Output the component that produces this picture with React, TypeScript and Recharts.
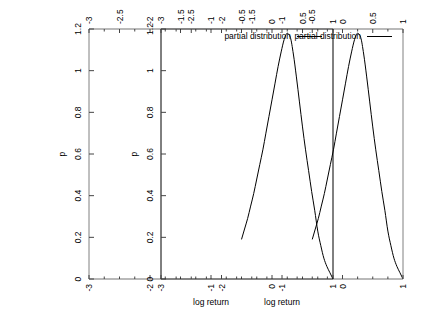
import { LineChart, Line, XAxis, YAxis, Legend } from 'recharts';

// partial distribution of log returns
const logReturn = [
  -0.5, -0.45, -0.4, -0.35, -0.3, -0.25, -0.2, -0.15, -0.1, -0.05, 0,
  0.05, 0.1, 0.15, 0.2, 0.25, 0.3, 0.35, 0.4, 0.45, 0.5,
  0.55, 0.6, 0.65, 0.7, 0.75, 0.8, 0.85, 0.9, 0.95, 1.0,
];
const density = [
  0.19, 0.24, 0.29, 0.35, 0.41, 0.48, 0.55, 0.62, 0.7, 0.78, 0.86,
  0.94, 1.02, 1.09, 1.15, 1.18, 1.16, 1.08, 0.97, 0.85, 0.73,
  0.62, 0.52, 0.42, 0.33, 0.23, 0.16, 0.1, 0.06, 0.03, 0,
];
const seriesName = 'partial distribution';

const xRange = [-3, 1];
const xTicks = [-3, -2.75, -2.5, -2.25, -2, -1.75, -1.5, -1.25, -1, -0.75, -0.5, -0.25, 0, 0.25, 0.5, 0.75, 1];
const bottomLabels = [-3, -2, -1, 0, 1];
const topLabels = [-3, -2.5, -2, -1.5, -1, -0.5, 0, 0.5, 1];
const pTicks = [0, 0.2, 0.4, 0.6, 0.8, 1, 1.2];
const pRange = [0, 1.2];

const data = logReturn.map((x, i) => ({ x, p: density[i] }));

const W = 443;
const H = 309;
const PLOT_TOP = 29;
const PLOT_BOTTOM = 279;
const AXIS_W = 30;
const TOP_H = 20;
const BOTTOM_H = 30;
const FONT = "'Liberation Sans', Arial, Helvetica, sans-serif";
const FS = 8.5;
const GRAY = '#808080';
const TICK = '#444';

const textStyle = { fontFamily: FONT, fontSize: FS, fill: '#000' };
// frame edges: half-black so the overlap of the two panels comes out darker
const edge = { stroke: '#000', strokeOpacity: 0.55, strokeWidth: 1.2 };

function BottomTick({ x, y, payload }: any) {
  const v = payload.value;
  const major = bottomLabels.includes(v);
  const ly = y + 5;
  return (
    <g>
      <line x1={x} y1={y} x2={x} y2={y - (major ? 4 : 2.5)} stroke={TICK} />
      {major && (
        <text x={x} y={ly} transform={`rotate(-90 ${x} ${ly})`} textAnchor="end" dominantBaseline="central" style={textStyle}>
          {v}
        </text>
      )}
    </g>
  );
}

function TopTick({ x, y, payload }: any) {
  const v = payload.value;
  const major = topLabels.includes(v);
  const ly = y - 5;
  return (
    <g>
      <line x1={x} y1={y} x2={x} y2={y + (major ? 4 : 2.5)} stroke={TICK} />
      {major && (
        <text x={x} y={ly} transform={`rotate(-90 ${x} ${ly})`} textAnchor="start" dominantBaseline="central" style={textStyle}>
          {v}
        </text>
      )}
    </g>
  );
}

function LeftTick({ x, y, payload }: any) {
  const lx = x - 11;
  return (
    <g>
      <line x1={x} y1={y} x2={x + 5} y2={y} stroke={TICK} />
      <text x={lx} y={y} transform={`rotate(-90 ${lx} ${y})`} textAnchor="middle" dominantBaseline="central" style={textStyle}>
        {payload.value}
      </text>
    </g>
  );
}

function RightTick({ x, y, payload }: any) {
  const lx = x + 12;
  return (
    <g>
      <line x1={x} y1={y} x2={x - 5} y2={y} stroke={TICK} />
      <text x={lx} y={y} transform={`rotate(-90 ${lx} ${y})`} textAnchor="middle" dominantBaseline="central" style={textStyle}>
        {payload.value}
      </text>
    </g>
  );
}

function PTitle({ viewBox }: any) {
  const x = viewBox.x + 3;
  const y = viewBox.y + viewBox.height / 2;
  return (
    <text x={x} y={y} transform={`rotate(-90 ${x} ${y})`} textAnchor="middle" dominantBaseline="central" style={textStyle}>
      p
    </text>
  );
}

function XTitle({ viewBox }: any) {
  return (
    <text x={viewBox.x + viewBox.width / 2} y={viewBox.y + 23} textAnchor="middle" dominantBaseline="central" style={textStyle}>
      log return
    </text>
  );
}

function Panel({ plotLeft, plotRight, leftStroke, rightStroke }: { plotLeft: number; plotRight: number; leftStroke: string; rightStroke: string }) {
  const margin = {
    top: PLOT_TOP - TOP_H,
    bottom: H - PLOT_BOTTOM - BOTTOM_H,
    left: plotLeft - AXIS_W,
    right: W - plotRight - AXIS_W,
  };
  const legend = (props: any) => {
    const name = props.payload && props.payload[0] ? props.payload[0].value : seriesName;
    return (
      <svg width={W} height={50} style={{ display: 'block', overflow: 'visible' }}>
        <text x={plotRight - 42} y={36} textAnchor="end" dominantBaseline="central" style={textStyle}>
          {name}
        </text>
        <line x1={plotRight - 36} y1={36.5} x2={plotRight - 11} y2={36.5} stroke="#000" />
      </svg>
    );
  };
  return (
    <div style={{ position: 'absolute', left: 0, top: 0 }}>
      <LineChart width={W} height={H} data={data} margin={margin}>
        <XAxis
          xAxisId="bottom"
          dataKey="x"
          type="number"
          domain={xRange}
          ticks={xTicks}
          interval={0}
          allowDataOverflow
          height={BOTTOM_H}
          tickSize={0}
          tickMargin={0}
          tick={<BottomTick />}
          axisLine={edge}
          label={<XTitle />}
        />
        <XAxis
          xAxisId="top"
          orientation="top"
          dataKey="x"
          type="number"
          domain={xRange}
          ticks={xTicks}
          interval={0}
          allowDataOverflow
          height={TOP_H}
          tickSize={0}
          tickMargin={0}
          tick={<TopTick />}
          axisLine={edge}
        />
        <YAxis
          yAxisId="left"
          type="number"
          domain={pRange}
          ticks={pTicks}
          interval={0}
          width={AXIS_W}
          tickSize={0}
          tickMargin={0}
          tick={<LeftTick />}
          axisLine={{ stroke: leftStroke }}
          label={<PTitle />}
        />
        <YAxis
          yAxisId="right"
          orientation="right"
          type="number"
          domain={pRange}
          ticks={pTicks}
          interval={0}
          width={AXIS_W}
          tickSize={0}
          tickMargin={0}
          tick={<RightTick />}
          axisLine={{ stroke: rightStroke }}
        />
        <Legend
          layout="horizontal"
          verticalAlign="middle"
          align="center"
          wrapperStyle={{ left: 0, top: 0, width: W, height: 50 }}
          content={legend}
        />
        <Line
          xAxisId="bottom"
          yAxisId="left"
          dataKey="p"
          name={seriesName}
          type="monotone"
          stroke="#000"
          strokeWidth={1}
          dot={false}
          activeDot={false}
          isAnimationActive={false}
        />
      </LineChart>
    </div>
  );
}

export default function App() {
  return (
    <div style={{ position: 'absolute', left: 0, top: 0, width: W, height: H }}>
      <Panel plotLeft={89} plotRight={333} leftStroke={GRAY} rightStroke="#000" />
      <Panel plotLeft={161} plotRight={403} leftStroke="#000" rightStroke={GRAY} />
    </div>
  );
}
